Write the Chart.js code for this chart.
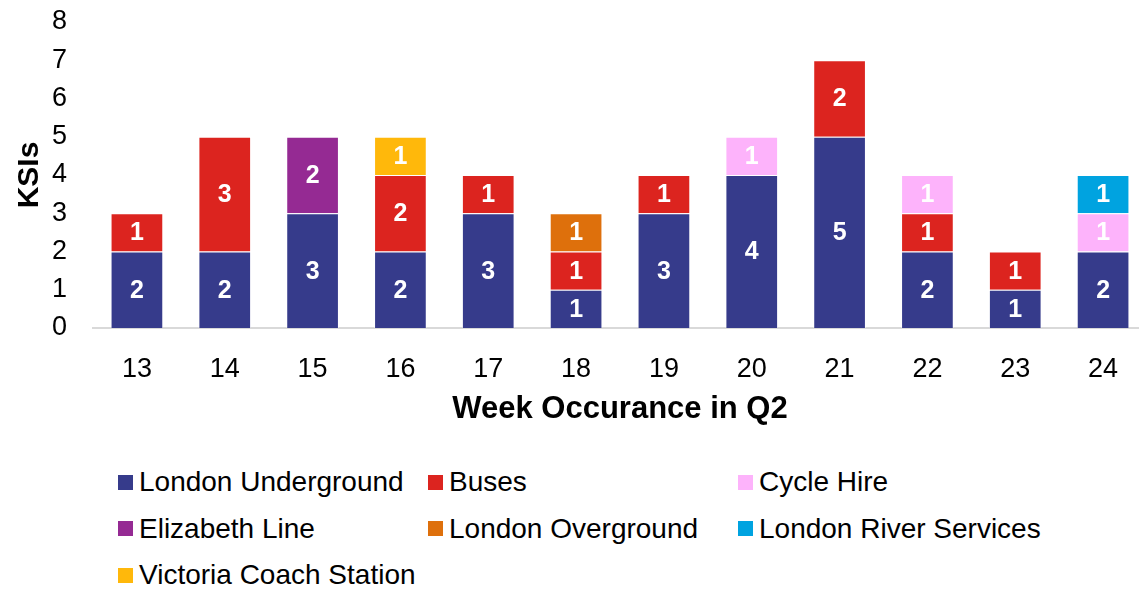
<!DOCTYPE html>
<html>
<head>
<meta charset="utf-8">
<script src="https://cdn.jsdelivr.net/npm/chart.js@4/dist/chart.umd.min.js"></script>
<style>
  html, body { margin: 0; padding: 0; background: #fff; overflow: hidden; }
  #wrap { position: relative; width: 1147px; height: 428px; }
  #legend { position: absolute; left: 118px; top: 459px; width: 960px;
            font-family: "Liberation Sans", Arial, sans-serif; font-size: 28px; color: #000; }
  .item { display: inline-flex; align-items: center; width: 310px; height: 46.5px; white-space: nowrap; }
  .box { width: 15px; height: 15px; margin-right: 6px; flex: none; }
</style>
</head>
<body>
<div id="wrap"><canvas id="chart"></canvas></div>
<div id="legend"></div>
<script>
// données
const weeks = ['13', '14', '15', '16', '17', '18', '19', '20', '21', '22', '23', '24'];
const underground = [2, 2, 3, 2, 3, 1, 3, 4, 5, 2, 1, 2];
const buses       = [1, 3, null, 2, 1, 1, 1, null, 2, 1, 1, null];
const cycleHire   = [null, null, null, null, null, null, null, 1, null, 1, null, 1];
const elizabeth   = [null, null, 2, null, null, null, null, null, null, null, null, null];
const overground  = [null, null, null, null, null, 1, null, null, null, null, null, null];
const riverSvc    = [null, null, null, null, null, null, null, null, null, null, null, 1];
const victoria    = [null, null, null, 1, null, null, null, null, null, null, null, null];
const yTicks = [0, 1, 2, 3, 4, 5, 6, 7, 8];

const font = '"Liberation Sans", Arial, sans-serif';

function serie(label, data, color) {
  return {
    label: label,
    data: data,
    backgroundColor: color,
    borderColor: 'rgba(255,255,255,0.45)',
    borderWidth: 1,
    barPercentage: 0.6,
    categoryPercentage: 1
  };
}

// étiquettes blanches au centre des segments
const valueLabels = {
  id: 'valueLabels',
  afterDatasetsDraw(chart) {
    const ctx = chart.ctx;
    ctx.save();
    ctx.fillStyle = '#fff';
    ctx.font = 'bold 25px ' + font;
    ctx.textAlign = 'center';
    ctx.textBaseline = 'middle';
    chart.data.datasets.forEach((ds, i) => {
      chart.getDatasetMeta(i).data.forEach((bar, j) => {
        const v = ds.data[j];
        if (!v) return;
        ctx.fillText(String(v), bar.x, (bar.y + bar.base) / 2 + 1);
      });
    });
    ctx.restore();
  }
};

const chart = new Chart(document.getElementById('chart'), {
  type: 'bar',
  data: {
    labels: weeks,
    datasets: [
      serie('London Underground', underground, '#363b8b'),
      serie('Buses', buses, '#dc241f'),
      serie('Cycle Hire', cycleHire, '#fdb3fb'),
      serie('Elizabeth Line', elizabeth, '#952a93'),
      serie('London Overground', overground, '#de700c'),
      serie('London River Services', riverSvc, '#00a3e0'),
      serie('Victoria Coach Station', victoria, '#ffb80b')
    ]
  },
  options: {
    responsive: true,
    maintainAspectRatio: false,
    animation: false,
    layout: { padding: { top: 0, left: 12, right: 0, bottom: 0 } },
    plugins: {
      legend: { display: false },
      tooltip: { enabled: false }
    },
    scales: {
      x: {
        stacked: true,
        afterFit(axis) { axis.height = 100; },
        grid: { display: false, drawTicks: false },
        border: { display: true, color: '#d9d9d9', width: 2 },
        ticks: { color: '#000', font: { family: font, size: 27 }, padding: 25, autoSkip: false, maxRotation: 0 },
        title: {
          display: true, text: 'Week Occurance in Q2', color: '#000',
          font: { family: font, size: 31, weight: 'bold' }, padding: { top: 0, bottom: 0 }
        }
      },
      y: {
        stacked: true,
        min: 0,
        max: 8,
        afterBuildTicks(axis) { axis.ticks = yTicks.map(v => ({ value: v })); },
        afterFit(axis) { axis.width = 81; axis.paddingTop = 22; axis.paddingBottom = 0; },
        grid: { display: false, drawTicks: false },
        border: { display: false },
        ticks: { color: '#000', font: { family: font, size: 27 }, padding: 26, autoSkip: false },
        title: {
          display: true, text: 'KSIs', color: '#000',
          font: { family: font, size: 30, weight: 'bold' }, padding: { top: 0, bottom: 0 }
        }
      }
    }
  },
  plugins: [valueLabels]
});

// légende en grille de trois colonnes
const legend = document.getElementById('legend');
chart.data.datasets.forEach(ds => {
  const item = document.createElement('div');
  item.className = 'item';
  item.innerHTML = '<span class="box" style="background:' + ds.backgroundColor + '"></span>' + ds.label;
  legend.appendChild(item);
});
</script>
</body>
</html>
